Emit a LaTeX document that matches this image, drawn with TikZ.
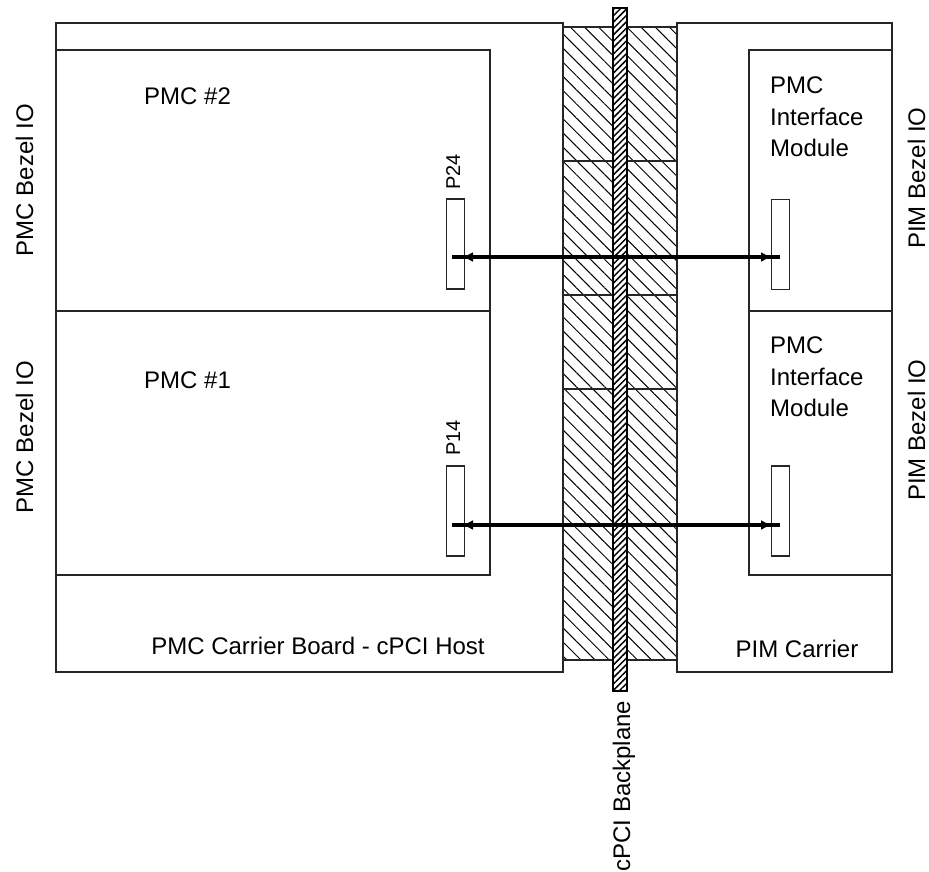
\documentclass[tikz,border=0pt]{standalone}
\usepackage{fontspec}
\setmainfont{Liberation Sans}
\usetikzlibrary{patterns.meta,arrows.meta}
\begin{document}
\begin{tikzpicture}[x=1pt,y=-1pt,
  edge/.style={line width=1.6pt,draw=black!85},
  lbl/.style={font=\fontsize{24}{28}\selectfont,inner sep=0pt},
  vlbl/.style={lbl,rotate=90,anchor=base},
  plbl/.style={font=\fontsize{20}{24}\selectfont,inner sep=0pt,rotate=90,anchor=base},
  conbox/.style={draw=black!85,line width=1.4pt,minimum width=18pt,minimum height=90pt,inner sep=0pt},
  bus/.style={line width=3.2pt},
  tips/.style={{Latex[length=11pt,width=10pt]}-{Latex[length=11pt,width=10pt]}},
  hatch/.style={pattern={Lines[angle=-45,distance=10pt,line width=1pt]}},
  bphatch/.style={pattern={Lines[angle=45,distance=4.5pt,line width=1.5pt]}},
]
\useasboundingbox (0,0) rectangle (929,871);

% boards
\draw[edge] (56,23) rectangle (563,672);
\draw[edge] (56,50) rectangle (490,311);
\draw[edge] (56,311) rectangle (490,575);
\draw[edge] (677,23) rectangle (892,672);
\draw[edge] (749,50) rectangle (892,311);
\draw[edge] (749,311) rectangle (892,575);

% connector hatch
\fill[hatch] (563,27) rectangle (677,660);
\foreach \yy in {27,161,295,389,660} \draw[edge] (563,\yy) -- (677,\yy);
\draw[edge] (563,23) -- (563,672);
\draw[edge] (677,23) -- (677,672);

% backplane
\fill[white] (613,8) rectangle (627,691);
\fill[bphatch] (613,8) rectangle (627,691);
\draw[line width=1.8pt] (613,8) rectangle (627,691);

% connectors
\node[conbox] (p24) at (455.5,244) {};
\node[conbox] (p14) at (455.5,511) {};
\node[conbox] (j2) at (780.5,244.5) {};
\node[conbox] (j1) at (780.5,511) {};

\coordinate (a2s) at (452,257);
\coordinate (a2e) at (780,257);
\coordinate (a2l) at (462,257);
\coordinate (a2r) at (772,257);
\coordinate (a1s) at (452,525);
\coordinate (a1e) at (780,525);
\coordinate (a1l) at (462,525);
\coordinate (a1r) at (772,525);
\draw[bus] (a2s) -- (a2e);
\draw[bus,tips] (a2l) -- (a2r);
\draw[bus] (a1s) -- (a1e);
\draw[bus,tips] (a1l) -- (a1r);

% labels
\node[lbl,anchor=base west] (pmc2) at (144,104) {PMC \#2};
\node[lbl,anchor=base west] (pmc1) at (144,388) {PMC \#1};
\node[lbl,anchor=base west] (ia1) at (770,93) {PMC};
\node[lbl,anchor=base west] (ia2) at (770,125) {Interface};
\node[lbl,anchor=base west] (ia3) at (770,156) {Module};
\node[lbl,anchor=base west] (ib1) at (770,353) {PMC};
\node[lbl,anchor=base west] (ib2) at (770,385) {Interface};
\node[lbl,anchor=base west] (ib3) at (770,416) {Module};
\node[lbl,anchor=base] (carr) at (318,654) {PMC Carrier Board - cPCI Host};
\node[lbl,anchor=base] (pimc) at (797,657) {PIM Carrier};
\node[vlbl] (bz1) at (33,180) {PMC Bezel IO};
\node[vlbl] (bz2) at (33,437) {PMC Bezel IO};
\node[vlbl] (bz3) at (925,178) {PIM Bezel IO};
\node[vlbl] (bz4) at (925,430) {PIM Bezel IO};
\node[plbl] (t24) at (460,172) {P24};
\node[plbl] (t14) at (460,438) {P14};
\node[vlbl] (bp) at (630,786) {cPCI Backplane};
\end{tikzpicture}
\end{document}
